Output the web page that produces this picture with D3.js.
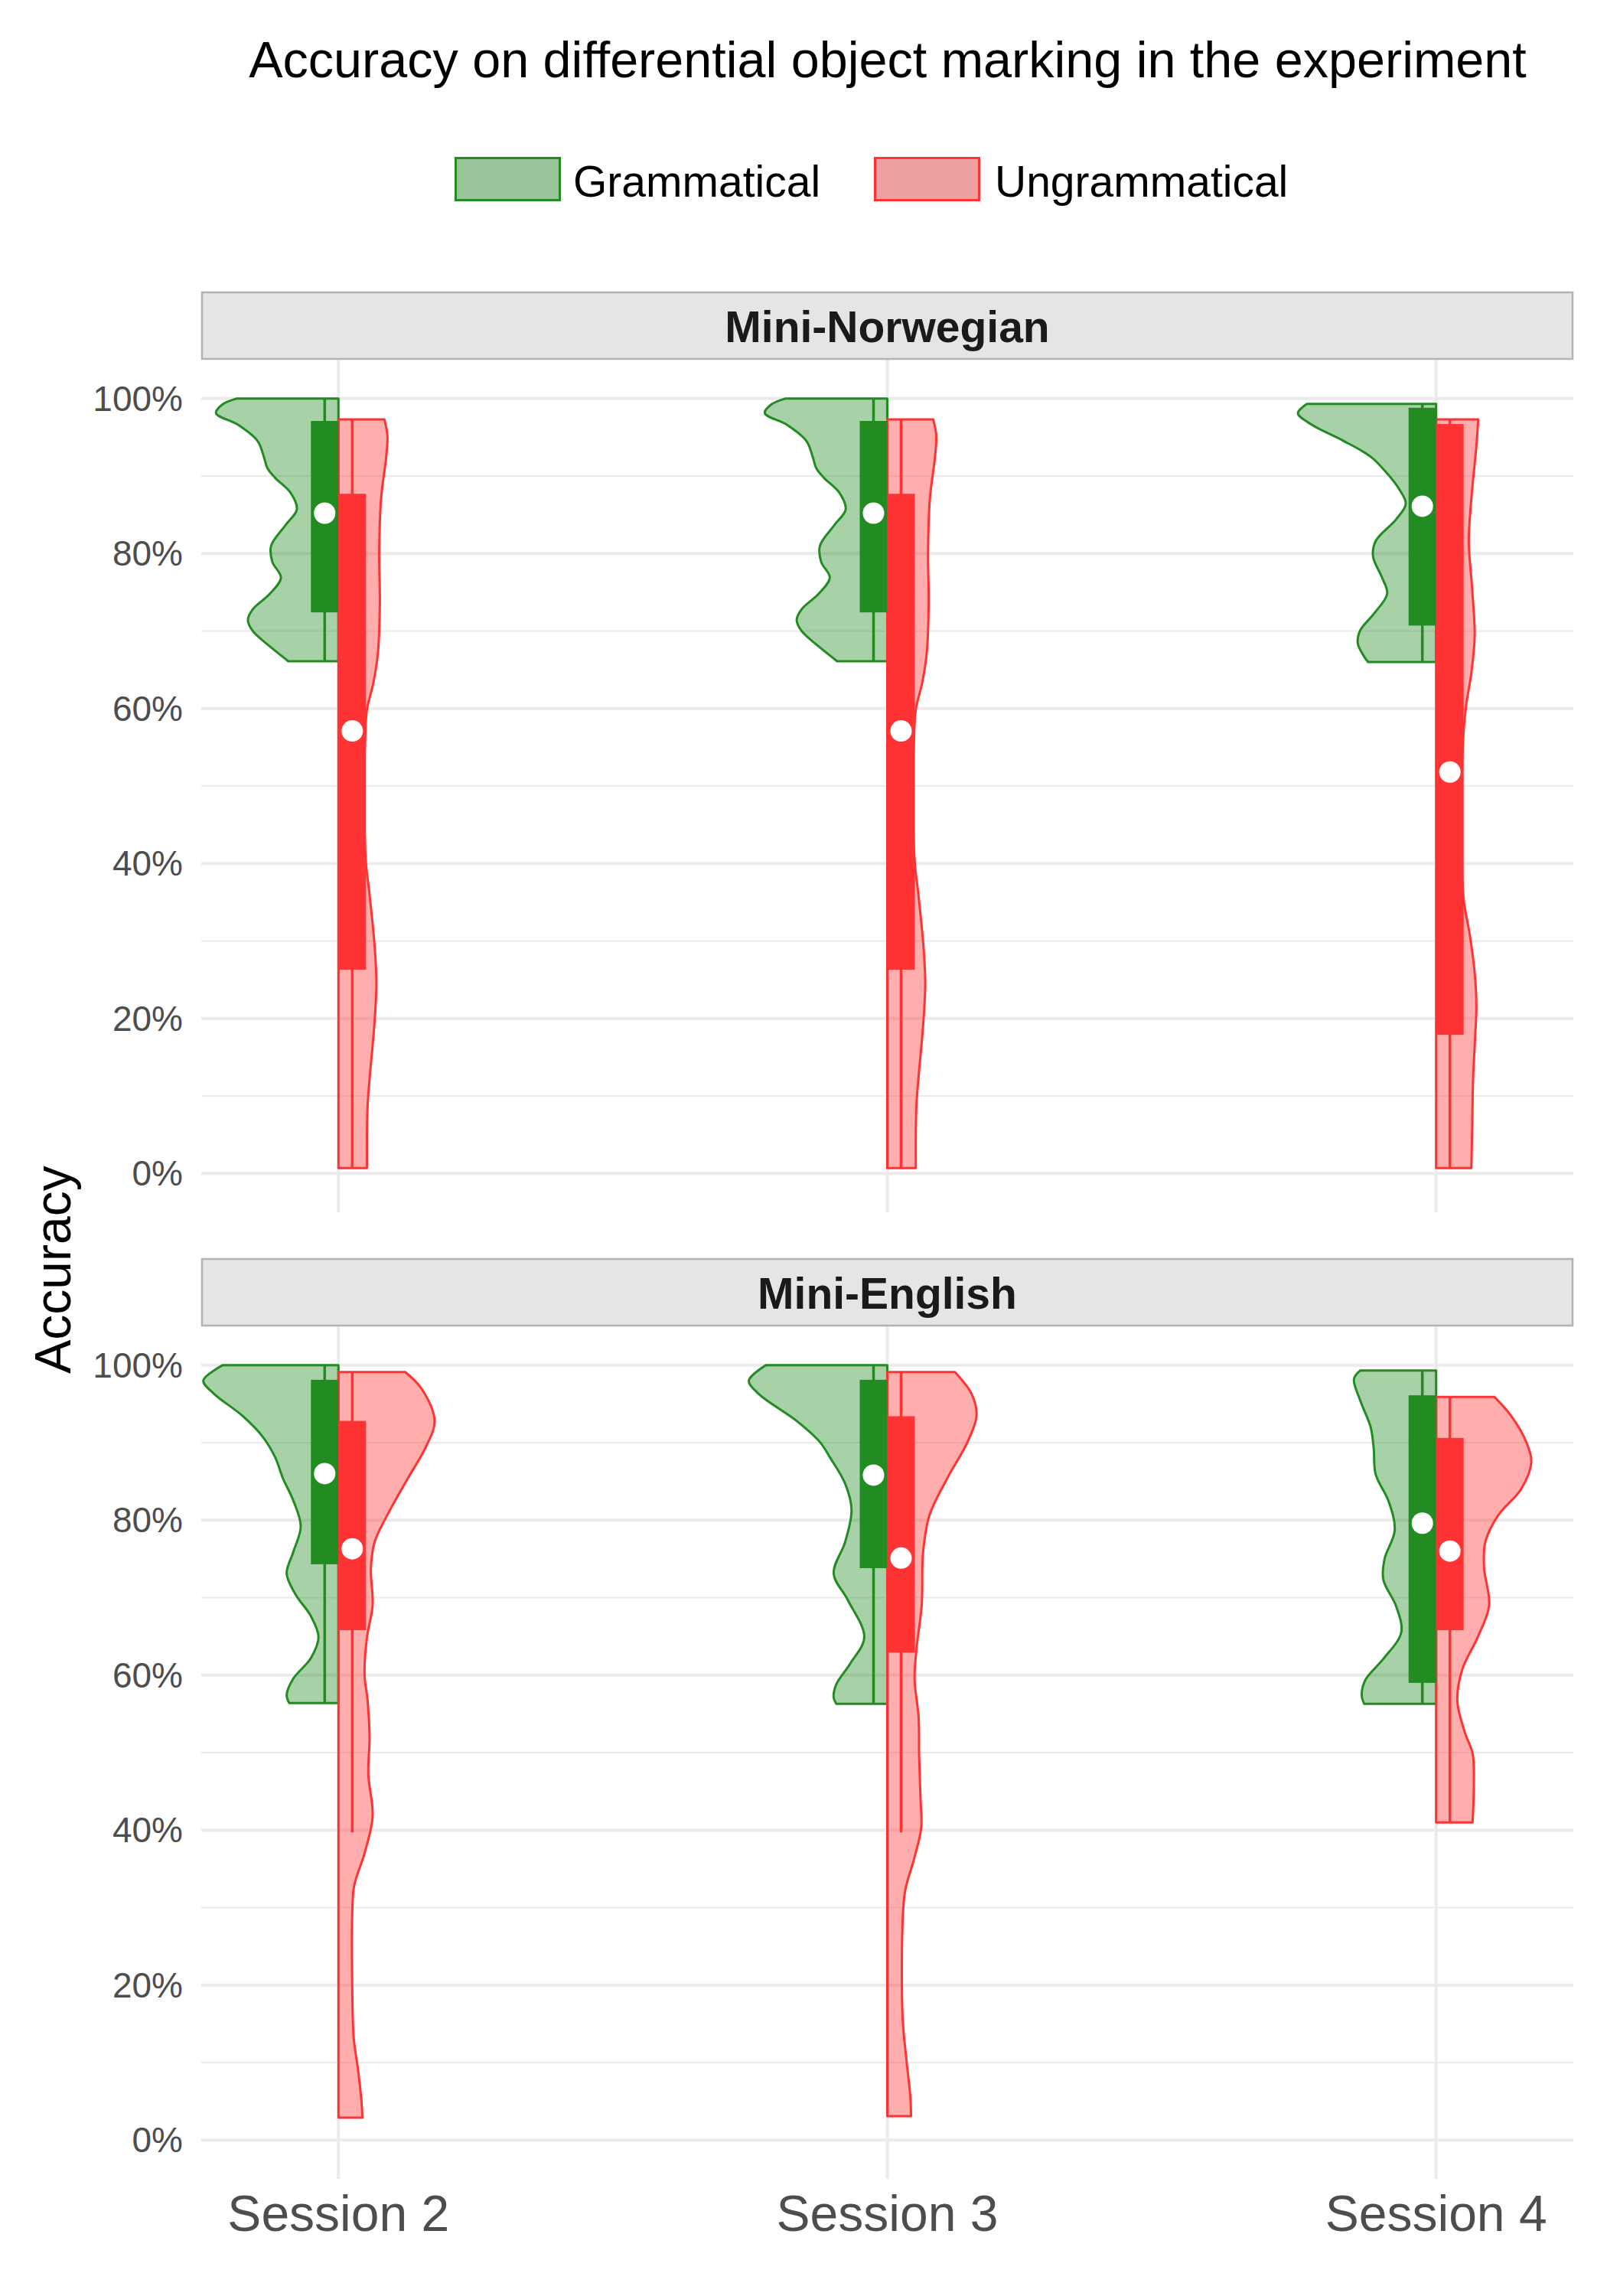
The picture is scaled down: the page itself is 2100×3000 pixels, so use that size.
<!DOCTYPE html>
<html>
<head>
<meta charset="utf-8">
<script src="https://cdn.jsdelivr.net/npm/d3@7"></script>
<style>
  body { margin: 0; background: #fff; }
  text { font-family: "Liberation Sans", Arial, sans-serif; }
</style>
</head>
<body>
<script>
// categories
const sessions = ["Session 2", "Session 3", "Session 4"];
const conditions = ["Grammatical", "Ungrammatical"];
const languages = ["Mini-Norwegian", "Mini-English"];
const yTicks = [0, 20, 40, 60, 80, 100];
const yMinor = [10, 30, 50, 70, 90];

// half-violin profiles: [accuracy %, relative density]
const norGramS2 = [[100,0.83],[99.2,0.95],[98.1,1.0],[96.6,0.82],[94.5,0.66],[92.5,0.61],[91,0.58],[89.8,0.52],[87.8,0.39],[85.7,0.34],[83.7,0.43],[81,0.55],[78.9,0.54],[76.9,0.47],[74.8,0.56],[72.8,0.70],[71.4,0.74],[70,0.70],[68,0.56],[66.1,0.41]];
const norUngrS2 = [[97.3,0.375],[95.2,0.40],[92.5,0.39],[87.1,0.348],[80.3,0.333],[73.5,0.338],[67.3,0.323],[63.3,0.285],[59.9,0.233],[56.5,0.219],[50,0.208],[45,0.212],[40,0.225],[36,0.254],[29.2,0.296],[24.5,0.31],[19,0.292],[12.2,0.254],[8.8,0.238],[5.4,0.233],[0.7,0.233]];
const norGramS3 = [[100,0.83],[99.2,0.95],[98.1,1.0],[96.6,0.82],[94.5,0.66],[92.5,0.61],[91,0.58],[89.8,0.52],[87.8,0.39],[85.7,0.34],[83.7,0.43],[81,0.55],[78.9,0.54],[76.9,0.47],[74.8,0.56],[72.8,0.70],[71.4,0.74],[70,0.70],[68,0.56],[66.1,0.41]];
const norUngrS3 = [[97.3,0.375],[95.2,0.40],[92.5,0.39],[87.1,0.348],[80.3,0.333],[73.5,0.338],[67.3,0.323],[63.3,0.285],[59.9,0.233],[56.5,0.219],[50,0.208],[45,0.212],[40,0.225],[36,0.254],[29.2,0.296],[24.5,0.31],[19,0.292],[12.2,0.254],[8.8,0.238],[5.4,0.233],[0.7,0.233]];
const norGramS4 = [[99.3,1.056],[98.1,1.129],[96.6,1.015],[94.6,0.765],[92.5,0.535],[90.5,0.41],[88.4,0.306],[86.4,0.248],[84.4,0.327],[81.6,0.494],[79.6,0.515],[76.9,0.442],[74.8,0.4],[72.1,0.515],[70.1,0.619],[68.4,0.64],[66.7,0.588],[66,0.556]];
const norUngrS4 = [[97.3,0.344],[93.9,0.329],[87.1,0.288],[81.6,0.267],[75.5,0.294],[69.4,0.315],[64.6,0.288],[60.5,0.246],[57.1,0.225],[50,0.208],[42,0.208],[35.4,0.225],[30.6,0.277],[25.9,0.315],[21.8,0.329],[17.7,0.319],[12.2,0.302],[5.4,0.294],[0.7,0.288]];
const engGramS2 = [[100,0.944],[98,1.104],[96.3,1.017],[93.5,0.788],[90.8,0.621],[88.1,0.517],[85.4,0.454],[82.6,0.371],[79.2,0.308],[75.8,0.371],[73.1,0.423],[70.4,0.35],[67.6,0.225],[64.9,0.163],[62.2,0.225],[59.5,0.371],[57.4,0.423],[56.4,0.402]];
const engUngrS2 = [[99.1,0.546],[96.9,0.681],[92.8,0.785],[89.4,0.713],[85.4,0.567],[81.3,0.421],[77.2,0.296],[73.8,0.265],[69,0.279],[64.9,0.233],[60.1,0.213],[56.7,0.238],[52,0.254],[47.2,0.244],[41.8,0.279],[37,0.213],[32.9,0.129],[29.5,0.113],[19.3,0.113],[13.1,0.125],[9.1,0.16],[5,0.188],[2.9,0.196]];
const engGramS3 = [[100,0.99],[98,1.131],[96.3,1.052],[92.8,0.74],[90.1,0.552],[88.1,0.469],[84.7,0.344],[81.3,0.292],[77.2,0.344],[73.1,0.438],[69.7,0.323],[64.9,0.188],[61.5,0.302],[58.8,0.417],[57.1,0.438],[56.3,0.417]];
const engUngrS3 = [[99.1,0.552],[96.3,0.688],[93.5,0.729],[90.1,0.656],[85.4,0.49],[80.6,0.344],[75.8,0.292],[69,0.281],[63.6,0.24],[59.5,0.223],[54.5,0.256],[49.7,0.26],[44.3,0.271],[40.3,0.277],[36.3,0.219],[32.2,0.146],[28.1,0.125],[15.9,0.125],[10.4,0.156],[5.7,0.188],[3.1,0.194]];
const engGramS4 = [[99.3,0.619],[98.2,0.671],[95.4,0.619],[92,0.535],[89.3,0.51],[85.9,0.494],[82.5,0.39],[78.7,0.338],[75,0.421],[72.3,0.431],[68.9,0.327],[65.5,0.285],[62.1,0.431],[59.4,0.577],[57.4,0.608],[56.3,0.588]];
const engUngrS4 = [[95.9,0.475],[93.5,0.61],[90.1,0.735],[87.4,0.777],[84,0.694],[80.6,0.506],[77.2,0.402],[73.8,0.392],[69,0.433],[64.9,0.34],[60.8,0.215],[56.7,0.173],[52.6,0.235],[49.9,0.298],[45.8,0.308],[41,0.298]];

// box stats per session: [whisker low, q1, q3, whisker high, mean]
const norGramBox = [[66.1,72.4,97.1,100,85.2],[66.1,72.4,97.1,100,85.2],[66,70.7,98.8,99.3,86.1]];
const norUngrBox = [[0.7,26.3,87.7,97.3,57.1],[0.7,26.3,87.7,97.3,57.1],[0.7,17.9,96.7,97.3,51.8]];
const engGramBox = [[56.4,74.3,98.1,100,86.0],[56.3,73.8,98.1,100,85.8],[56.3,59.0,96.1,99.3,79.6]];
const engUngrBox = [[39.7,65.8,92.8,99.1,76.3],[39.7,62.9,93.4,99.1,75.1],[41,65.8,90.6,95.9,76.0]];

const violins = {
  "Mini-Norwegian": {Grammatical: [norGramS2, norGramS3, norGramS4], Ungrammatical: [norUngrS2, norUngrS3, norUngrS4]},
  "Mini-English": {Grammatical: [engGramS2, engGramS3, engGramS4], Ungrammatical: [engUngrS2, engUngrS3, engUngrS4]}
};
const boxes = {
  "Mini-Norwegian": {Grammatical: norGramBox, Ungrammatical: norUngrBox},
  "Mini-English": {Grammatical: engGramBox, Ungrammatical: engUngrBox}
};

const colors = {Grammatical: "#228B22", Ungrammatical: "#FF3333"};
const keyFill = {Grammatical: "#99C499", Ungrammatical: "#EFA0A0"};

const width = 2100, height = 3000;
const panelLeft = 263, panelRight = 2056;
const panels = [
  {lang: "Mini-Norwegian", stripTop: 381, top: 470, bottom: 1584},
  {lang: "Mini-English", stripTop: 1644, top: 1733, bottom: 2847}
];

const svg = d3.select("body").append("svg")
  .attr("width", width)
  .attr("height", height);

svg.append("rect").attr("width", width).attr("height", height).attr("fill", "#fff");

const x = d3.scalePoint().domain(sessions).range([panelLeft, panelRight]).padding(0.25);
const wScale = d3.scaleLinear().domain([0, 1]).range([0, 160]);
const boxW = 36;

// title
svg.append("text")
  .attr("x", 1160).attr("y", 101)
  .attr("text-anchor", "middle")
  .attr("font-size", 66.5)
  .attr("fill", "#000")
  .text("Accuracy on differential object marking in the experiment");

// legend
const legendPos = {Grammatical: [594, 749], Ungrammatical: [1142, 1300]};
conditions.forEach(c => {
  const [kx, tx] = legendPos[c];
  svg.append("rect")
    .attr("x", kx + 1.5).attr("y", 206.5)
    .attr("width", 136).attr("height", 55)
    .attr("fill", keyFill[c])
    .attr("stroke", colors[c])
    .attr("stroke-width", 3);
  svg.append("text")
    .attr("x", tx).attr("y", 257)
    .attr("font-size", 57)
    .attr("fill", "#000")
    .text(c);
});

// y axis title
svg.append("text")
  .attr("transform", "translate(92,1659) rotate(-90)")
  .attr("text-anchor", "middle")
  .attr("font-size", 66)
  .attr("fill", "#000")
  .text("Accuracy");

panels.forEach(p => {
  const y = d3.scaleLinear().domain([-5, 105]).range([p.bottom, p.top]);
  const g = svg.append("g");

  // grid
  g.selectAll(".minor").data(yMinor).join("line")
    .attr("x1", panelLeft).attr("x2", panelRight)
    .attr("y1", d => y(d)).attr("y2", d => y(d))
    .attr("stroke", "#EBEBEB").attr("stroke-width", 2);
  g.selectAll(".major").data(yTicks).join("line")
    .attr("x1", panelLeft).attr("x2", panelRight)
    .attr("y1", d => y(d)).attr("y2", d => y(d))
    .attr("stroke", "#EBEBEB").attr("stroke-width", 4);
  g.selectAll(".vgrid").data(sessions).join("line")
    .attr("x1", d => x(d)).attr("x2", d => x(d))
    .attr("y1", p.top).attr("y2", p.bottom)
    .attr("stroke", "#EBEBEB").attr("stroke-width", 4);

  // y tick labels
  g.selectAll(".ytick").data(yTicks).join("text")
    .attr("x", 239).attr("y", d => y(d))
    .attr("dy", "0.35em")
    .attr("text-anchor", "end")
    .attr("font-size", 46)
    .attr("fill", "#4D4D4D")
    .text(d => d + "%");

  // strip
  svg.append("rect")
    .attr("x", panelLeft + 1).attr("y", p.stripTop + 1)
    .attr("width", panelRight - panelLeft - 2).attr("height", p.top - p.stripTop - 2)
    .attr("fill", "#E5E5E5").attr("stroke", "#B3B3B3").attr("stroke-width", 2.5);
  svg.append("text")
    .attr("x", (panelLeft + panelRight) / 2).attr("y", (p.stripTop + p.top) / 2 + 21)
    .attr("text-anchor", "middle")
    .attr("font-size", 57).attr("font-weight", "bold")
    .attr("fill", "#1A1A1A")
    .text(p.lang);

  // half violins
  conditions.forEach(c => {
    const side = c === "Grammatical" ? -1 : 1;
    sessions.forEach((s, i) => {
      const prof = violins[p.lang][c][i];
      const cx = x(s);
      const outer = d3.line()
        .x(d => cx + side * wScale(d[1]))
        .y(d => y(d[0]))
        .curve(d3.curveCatmullRom.alpha(0.5))(prof);
      const yTop = y(prof[0][0]), yBot = y(prof[prof.length - 1][0]);
      g.append("path")
        .attr("d", `M${cx},${yTop}L` + outer.slice(1) + `L${cx},${yBot}Z`)
        .attr("fill", colors[c]).attr("fill-opacity", 0.4)
        .attr("stroke", colors[c]).attr("stroke-width", 3)
        .attr("stroke-linejoin", "round");
    });
  });

  // boxplots
  conditions.forEach(c => {
    const side = c === "Grammatical" ? -1 : 1;
    sessions.forEach((s, i) => {
      const [lo, q1, q3, hi] = boxes[p.lang][c][i];
      const cx = x(s);
      const bx = side < 0 ? cx - boxW : cx;
      g.append("line")
        .attr("x1", bx + boxW / 2).attr("x2", bx + boxW / 2)
        .attr("y1", y(hi)).attr("y2", y(lo))
        .attr("stroke", colors[c]).attr("stroke-width", 3.5);
      g.append("rect")
        .attr("x", bx).attr("y", y(q3))
        .attr("width", boxW).attr("height", y(q1) - y(q3))
        .attr("fill", colors[c]);
    });
  });

  // means
  conditions.forEach(c => {
    const side = c === "Grammatical" ? -1 : 1;
    sessions.forEach((s, i) => {
      const m = boxes[p.lang][c][i][4];
      g.append("circle")
        .attr("cx", x(s) + side * boxW / 2)
        .attr("cy", y(m))
        .attr("r", 14)
        .attr("fill", "#fff");
    });
  });
});

// x axis labels
svg.selectAll(".xtick").data(sessions).join("text")
  .attr("x", d => x(d)).attr("y", 2915)
  .attr("text-anchor", "middle")
  .attr("font-size", 66)
  .attr("fill", "#4D4D4D")
  .text(d => d);
</script>
</body>
</html>
